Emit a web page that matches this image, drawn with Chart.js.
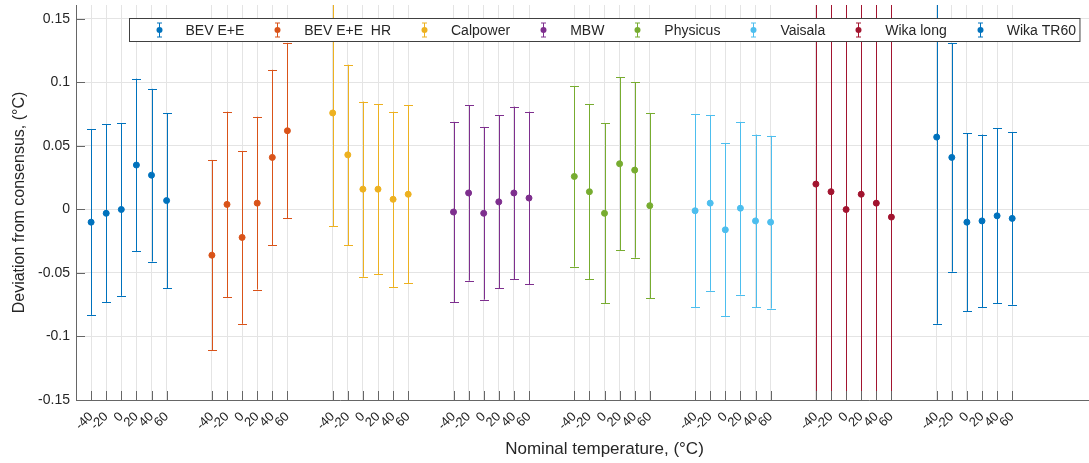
<!DOCTYPE html>
<html>
<head>
<meta charset="utf-8">
<script src="https://cdn.jsdelivr.net/npm/chart.js@4.4.1/dist/chart.umd.min.js"></script>
<style>
  html, body { margin: 0; padding: 0; overflow: hidden; background: #fff; }
  #chart { display: block; }
</style>
</head>
<body>
<canvas id="chart" width="1138" height="463" style="width:1138px;height:463px"></canvas>
<script>
const instruments = ["BEV E+E", "BEV E+E  HR", "Calpower", "MBW", "Physicus", "Vaisala", "Wika long", "Wika TR60"];
const temperatures = [-40, -20, 0, 20, 40, 60];
const tickLabels = ["-40", "-20", "0", "20", "40", "60"];
const yTickValues = [-0.15, -0.1, -0.05, 0, 0.05, 0.1, 0.15];

// deviation from consensus, one value per nominal temperature
const bevEE     = [-0.010, -0.003,  0.000,  0.035,  0.027,  0.007];
const bevEEHR   = [-0.036,  0.004, -0.022,  0.005,  0.041,  0.062];
const calpower  = [ 0.076,  0.043,  0.016,  0.016,  0.008,  0.012];
const mbw       = [-0.002,  0.013, -0.003,  0.006,  0.013,  0.009];
const physicus  = [ 0.026,  0.014, -0.003,  0.036,  0.031,  0.003];
const vaisala   = [-0.001,  0.005, -0.016,  0.001, -0.009, -0.010];
const wikaLong  = [ 0.020,  0.014,  0.000,  0.012,  0.005, -0.006];
const wikaTR60  = [ 0.057,  0.041, -0.010, -0.009, -0.005, -0.007];

// half length of each error bar
const bevEEErr    = [0.073, 0.070, 0.068, 0.068, 0.068, 0.069];
const bevEEHRErr  = [0.075, 0.073, 0.068, 0.068, 0.069, 0.069];
const calpowerErr = [0.089, 0.071, 0.069, 0.067, 0.069, 0.070];
const mbwErr      = [0.071, 0.069, 0.068, 0.068, 0.068, 0.068];
const physicusErr = [0.071, 0.069, 0.071, 0.068, 0.069, 0.073];
const vaisalaErr  = [0.076, 0.069, 0.068, 0.068, 0.068, 0.068];
const wikaLongErr = [0.500, 0.500, 0.500, 0.500, 0.500, 0.500];
const wikaTR60Err = [0.147, 0.090, 0.070, 0.068, 0.069, 0.068];

const values = [bevEE, bevEEHR, calpower, mbw, physicus, vaisala, wikaLong, wikaTR60];
const errors = [bevEEErr, bevEEHRErr, calpowerErr, mbwErr, physicusErr, vaisalaErr, wikaLongErr, wikaTR60Err];
const colors = ["#0072BD", "#D95319", "#EDB120", "#7E2F8E", "#77AC30", "#4DBEEE", "#A2142F", "#0072BD"];

// each instrument gets its own block of temperatures along the x axis
const groupStep = 160;
const xTickValues = [];
instruments.forEach((_, g) => temperatures.forEach(t => xTickValues.push(t + g * groupStep)));

const fontFamily = '"Liberation Sans", Arial, Helvetica, sans-serif';
const textColor = "#262626";

const datasets = instruments.map((name, g) => ({
  label: name,
  data: values[g].map((v, i) => ({ x: temperatures[i] + g * groupStep, y: v, err: errors[g][i] })),
  backgroundColor: colors[g],
  borderColor: colors[g],
  pointRadius: 3,
  pointBorderWidth: 1,
}));

// vertical error bars with caps, plus inward tick marks on both axes
const errorBars = {
  id: "errorBars",
  beforeDatasetsDraw(chart) {
    const { ctx, chartArea, scales: { x, y } } = chart;
    ctx.save();
    ctx.beginPath();
    ctx.rect(chartArea.left, chartArea.top, chartArea.right - chartArea.left, chartArea.bottom - chartArea.top);
    ctx.clip();
    ctx.lineWidth = 1;
    chart.data.datasets.forEach(ds => {
      ctx.strokeStyle = ds.borderColor;
      ds.data.forEach(p => {
        const px = Math.round(x.getPixelForValue(p.x)) + 0.5;
        const top = y.getPixelForValue(p.y + p.err);
        const bot = y.getPixelForValue(p.y - p.err);
        ctx.beginPath();
        ctx.moveTo(px, top);
        ctx.lineTo(px, bot);
        ctx.moveTo(px - 4.5, Math.round(top) + 0.5);
        ctx.lineTo(px + 4.5, Math.round(top) + 0.5);
        ctx.moveTo(px - 4.5, Math.round(bot) + 0.5);
        ctx.lineTo(px + 4.5, Math.round(bot) + 0.5);
        ctx.stroke();
      });
    });
    ctx.restore();

    ctx.save();
    ctx.strokeStyle = "#666";
    ctx.lineWidth = 1;
    ctx.beginPath();
    x.ticks.forEach(t => {
      const px = Math.round(x.getPixelForValue(t.value)) + 0.5;
      ctx.moveTo(px, chartArea.bottom);
      ctx.lineTo(px, chartArea.bottom - 9);
    });
    y.ticks.forEach(t => {
      const py = Math.round(y.getPixelForValue(t.value)) + 0.5;
      ctx.moveTo(chartArea.left, py);
      ctx.lineTo(chartArea.left + 9, py);
    });
    ctx.stroke();
    ctx.restore();
  }
};

// boxed one-row legend inside the top of the axes
const boxedLegend = {
  id: "boxedLegend",
  afterDraw(chart) {
    const { ctx, chartArea } = chart;
    ctx.save();
    ctx.font = "14px " + fontFamily;
    const items = chart.data.datasets.map(ds => {
      const w = ctx.measureText(ds.label).width;
      return { ds, w, total: 29 + 27 + w + 4 };
    });
    const boxW = items.reduce((s, it) => s + it.total, 0);
    const boxH = 23;
    const boxLeft = Math.round((chartArea.left + chartArea.right) / 2 - boxW / 2) + 0.5;
    const boxTop = Math.round(chartArea.top + 13) + 0.5;
    ctx.fillStyle = "#fff";
    ctx.fillRect(boxLeft, boxTop, boxW, boxH);
    ctx.strokeStyle = "#404040";
    ctx.lineWidth = 1;
    ctx.strokeRect(boxLeft, boxTop, boxW, boxH);

    const cy = boxTop + boxH / 2;
    let left = boxLeft;
    items.forEach(it => {
      const ix = Math.round(left + 29) + 0.5;
      ctx.strokeStyle = it.ds.borderColor;
      ctx.beginPath();
      ctx.moveTo(ix, cy - 7);
      ctx.lineTo(ix, cy + 7);
      ctx.moveTo(ix - 2.5, cy - 7);
      ctx.lineTo(ix + 2.5, cy - 7);
      ctx.moveTo(ix - 2.5, cy + 7);
      ctx.lineTo(ix + 2.5, cy + 7);
      ctx.stroke();
      ctx.fillStyle = it.ds.backgroundColor;
      ctx.beginPath();
      ctx.arc(ix, cy, 3, 0, Math.PI * 2);
      ctx.fill();
      ctx.fillStyle = textColor;
      ctx.textAlign = "left";
      ctx.textBaseline = "middle";
      ctx.fillText(it.ds.label, left + 56, cy + 1);
      left += it.total;
    });
    ctx.restore();
  }
};

new Chart(document.getElementById("chart"), {
  type: "scatter",
  data: { datasets },
  options: {
    responsive: false,
    animation: false,
    layout: { padding: { top: 4, right: 0, left: 0, bottom: 0 } },
    plugins: {
      legend: { display: false },
      tooltip: { enabled: false },
    },
    scales: {
      x: {
        type: "linear",
        position: "bottom",
        min: -60,
        max: 1340,
        afterBuildTicks: scale => { scale.ticks = xTickValues.map(v => ({ value: v })); },
        afterFit: scale => { scale.height = 63; },
        grid: { color: "#e4e4e4", drawTicks: false },
        border: { color: "#666", width: 1 },
        ticks: {
          autoSkip: false,
          minRotation: 45,
          maxRotation: 45,
          padding: 9,
          color: textColor,
          font: { family: fontFamily, size: 13 },
          callback: (v, i) => tickLabels[i % tickLabels.length],
        },
        title: {
          display: true,
          text: "Nominal temperature, (°C)",
          color: textColor,
          font: { family: fontFamily, size: 17 },
          padding: { top: 0, bottom: 3 },
        },
      },
      y: {
        min: -0.15,
        max: 0.161,
        afterBuildTicks: scale => { scale.ticks = yTickValues.map(v => ({ value: v })); },
        afterFit: scale => {
          scale.width = 76;
          // the top tick sits below the axis end, so no extra room is needed for its label
          scale.paddingTop = 0;
          scale.paddingBottom = 0;
        },
        grid: { color: "#e4e4e4", drawTicks: false },
        border: { color: "#666", width: 1 },
        ticks: {
          padding: 6,
          color: textColor,
          font: { family: fontFamily, size: 14 },
          callback: v => String(Math.round(v * 100) / 100),
        },
        title: {
          display: true,
          text: "Deviation from consensus, (°C)",
          color: textColor,
          font: { family: fontFamily, size: 16 },
          padding: { top: 10, bottom: 0 },
        },
      },
    },
  },
  plugins: [errorBars, boxedLegend],
});
</script>
</body>
</html>
